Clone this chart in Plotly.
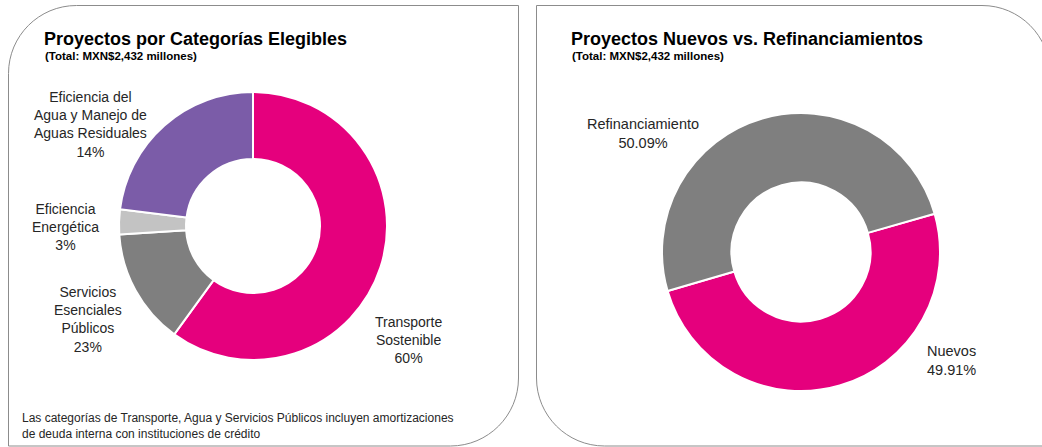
import plotly.graph_objects as go

cat_names = ["Transporte<br>Sostenible", "Servicios<br>Esenciales<br>Públicos",
             "Eficiencia<br>Energética", "Eficiencia del<br>Agua y Manejo de<br>Aguas Residuales"]
cat_shares = [60, 14, 3, 23]
cat_label_pct = ["60%", "23%", "3%", "14%"]
cat_colors = ["#E5007D", "#7F7F7F", "#C3C3C3", "#7B5CA8"]

# right donut
type_names = ["Nuevos", "Refinanciamiento"]
type_shares = [49.91, 50.09]
type_colors = ["#E5007D", "#7F7F7F"]

W, H = 1042, 447
FONT = "Liberation Sans, Arial, sans-serif"


def dom(cx, cy, r):
    return dict(x=[(cx - r) / W, (cx + r) / W], y=[1 - (cy + r) / H, 1 - (cy - r) / H])


fig = go.Figure()

fig.add_trace(go.Pie(
    labels=cat_names, values=cat_shares, sort=False, direction="clockwise",
    rotation=0, hole=0.5, textinfo="none", hoverinfo="label+percent",
    marker=dict(colors=cat_colors, line=dict(color="white", width=2)),
    domain=dom(253, 226, 134), showlegend=False,
))
fig.add_trace(go.Pie(
    labels=type_names, values=type_shares, sort=False, direction="clockwise",
    rotation=74, hole=0.5, textinfo="none", hoverinfo="label+percent",
    marker=dict(colors=type_colors, line=dict(color="white", width=2)),
    domain=dom(801, 252, 139), showlegend=False,
))


# panel outlines with rounded corners (cubic approximations of quarter circles)
def panel(x0, y0, x1, y1, r, round_corners):
    k = 0.5523 * r
    tl, tr, br, bl = round_corners
    p = ""
    p += "M%f,%f " % (x0, y0 + r) if tl else "M%f,%f " % (x0, y0)
    if tl:
        p += "C%f,%f %f,%f %f,%f " % (x0, y0 + r - k, x0 + r - k, y0, x0 + r, y0)
    if tr:
        p += "L%f,%f C%f,%f %f,%f %f,%f " % (x1 - r, y0, x1 - r + k, y0, x1, y0 + r - k, x1, y0 + r)
    else:
        p += "L%f,%f " % (x1, y0)
    if br:
        p += "L%f,%f C%f,%f %f,%f %f,%f " % (x1, y1 - r, x1, y1 - r + k, x1 - r + k, y1, x1 - r, y1)
    else:
        p += "L%f,%f " % (x1, y1)
    if bl:
        p += "L%f,%f C%f,%f %f,%f %f,%f " % (x0 + r, y1, x0 + r - k, y1, x0, y1 - r + k, x0, y1 - r)
    else:
        p += "L%f,%f " % (x0, y1)
    p += "Z"
    return p


shapes = [
    dict(type="path", xref="x", yref="y", path=panel(8.5, 5.5, 518.5, 446, 68, (1, 0, 1, 0)),
         line=dict(color="#8C8C8C", width=1)),
    dict(type="path", xref="x", yref="y", path=panel(536.5, 5.5, 1050, 446, 68, (0, 1, 0, 1)),
         line=dict(color="#8C8C8C", width=1)),
]

ann = []


def txt(x, y, s, size, bold=False, align="center", xanchor="center", color="#262626"):
    ann.append(dict(x=x, y=y, xref="x", yref="y", text="<b>%s</b>" % s if bold else s,
                    showarrow=False, xanchor=xanchor, yanchor="middle", align=align,
                    font=dict(family=FONT, size=size, color=color)))


txt(42, 39, "Proyectos por Categorías Elegibles", 18, bold=True, xanchor="left", color="#000000")
txt(43, 56, "(Total: MXN$2,432 millones)", 11.5, bold=True, xanchor="left", color="#000000")
txt(569, 39, "Proyectos Nuevos vs. Refinanciamientos", 18, bold=True, xanchor="left", color="#000000")
txt(570, 56, "(Total: MXN$2,432 millones)", 11.5, bold=True, xanchor="left", color="#000000")

# slice labels
cat_label_pos = [(408, 340), (88, 319), (65, 227), (90, 124)]
for name, pct, (lx, ly) in zip(cat_names, cat_label_pct, cat_label_pos):
    txt(lx, ly, name + "<br>" + pct, 14)

type_label_pos = [(951, 360), (643, 133)]
for name, share, (lx, ly) in zip(type_names, type_shares, type_label_pos):
    txt(lx, ly, "%s<br>%.2f%%" % (name, share), 14.5)

txt(20, 426, "Las categorías de Transporte, Agua y Servicios Públicos incluyen amortizaciones<br>"
    "de deuda interna con instituciones de crédito", 12, align="left", xanchor="left")

fig.update_layout(
    width=W, height=H, margin=dict(l=0, r=0, t=0, b=0),
    paper_bgcolor="white", plot_bgcolor="white",
    xaxis=dict(range=[0, W], visible=False, fixedrange=True, domain=[0, 1]),
    yaxis=dict(range=[H, 0], visible=False, fixedrange=True, domain=[0, 1]),
    shapes=shapes, annotations=ann,
)

# drop the default body margin so the figure sits flush in the window
fig.write_html("out.html", config={"displayModeBar": False},
               post_script="document.body.style.margin='0px';")
